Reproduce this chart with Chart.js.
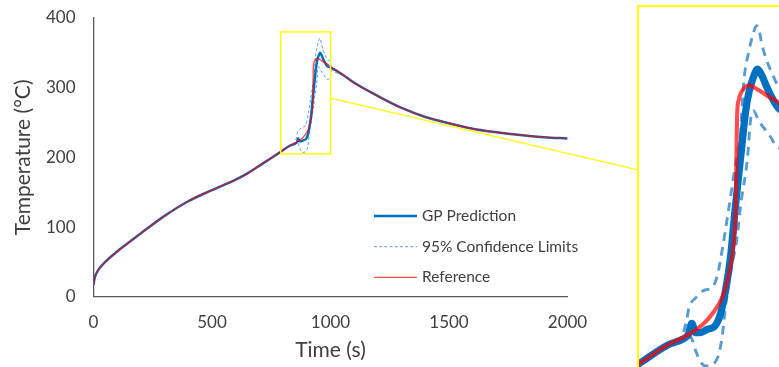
<!DOCTYPE html>
<html>
<head>
<meta charset="utf-8">
<script src="https://cdn.jsdelivr.net/npm/chart.js@4"></script>
<style>
  html, body { margin: 0; padding: 0; background: #fff; overflow: hidden; }
  #main { position: absolute; left: 0; top: 0; width: 779px; height: 367px; }
  #zoom { position: absolute; left: 637px; top: 5px; width: 150px; height: 363px;
          border-left: 2px solid #ffff00; border-top: 2px solid #ffff00; background: #fff; }
</style>
</head>
<body>
<div id="main"><canvas id="tempChart"></canvas></div>
<div id="zoom"><canvas id="zoomChart"></canvas></div>
<script>
// heating phase, shared by every curve
var warmupTime = [0, 5, 20, 50, 100, 150, 200, 300, 400, 500, 600, 650, 700, 750, 790, 830];
var warmupTemp = [17, 27, 38, 50, 65, 78, 91, 116, 137, 153, 168, 177, 188, 199, 208, 217];

// cooling phase, shared by every curve
var coolTime = [1050, 1100, 1200, 1300, 1400, 1500, 1600, 1700, 1800, 1900, 2000];
var coolTemp = [319, 307, 288, 271, 258, 249, 241, 236, 232, 229, 227];

// peak window, per curve
var gpTime = [852, 859, 864, 869, 876, 885, 897, 904, 911, 918, 925, 934, 939, 944, 950, 956, 962, 967, 975, 986, 1000];
var gpTemp = [220, 222, 227.5, 223, 223, 224.5, 226.5, 232, 243, 259, 284, 313, 329, 339, 346, 350, 347, 343, 337, 331, 329];

var refTime = [862, 881, 895, 907, 916, 923, 925.5, 926.5, 927.5, 929.5, 932, 944, 955, 967, 986, 1000];
var refTemp = [222.6, 227.5, 233.2, 240.4, 251.6, 268, 284, 310, 329, 335, 338, 342.3, 340.5, 337.8, 333.8, 330];

var upperTime = [850, 856, 860, 870, 881, 893, 900, 907, 914, 921, 928, 932, 934.5, 937, 944, 949, 954.5, 958, 962, 969, 979, 986, 1000, 1004];
var upperTemp = [221, 228, 235, 240, 243.4, 245, 251, 264, 279, 295, 310, 318, 333, 345, 359, 366, 371, 369, 362, 354, 346, 341, 336, 328];

var lowerTime = [852, 862, 869, 876, 884, 890, 897, 902, 907, 911, 918, 928, 932, 942, 946, 950, 958, 972, 986, 1000, 1004];
var lowerTemp = [220.5, 221, 214.6, 209, 207, 207.3, 209, 213, 222.6, 235.4, 251.4, 270.7, 283.6, 307.6, 325, 330, 325, 318.5, 312, 314, 328];

// region shown enlarged on the right
var zoomTime = [790, 1000];
var zoomTemp = [205, 380];

var BLUE = '#0070c0',
    LIGHT_BLUE = '#5b9bd5',
    RED = 'rgba(255, 0, 0, 0.7)',
    YELLOW = '#ffff00',
    TEXT = '#404040',
    FONT = 'Lato, "DejaVu Sans", sans-serif';

function curve(winTime, winTemp) {
    var t = warmupTime.concat(winTime, coolTime),
        v = warmupTemp.concat(winTemp, coolTemp);
    return t.map(function (x, i) { return { x: x, y: v[i] }; });
}

function makeDatasets(k) {
    var base = { pointRadius: 0, fill: false, cubicInterpolationMode: 'monotone' };
    return [
        Object.assign({ label: 'Reference', data: curve(refTime, refTemp),
            borderColor: RED, borderWidth: 1.4 * k, order: 0 }, base),
        Object.assign({ label: 'GP Prediction', data: curve(gpTime, gpTemp),
            borderColor: BLUE, borderWidth: 2.5 * k, order: 1 }, base),
        Object.assign({ label: '95% Confidence Limits', data: curve(upperTime, upperTemp),
            borderColor: LIGHT_BLUE, borderWidth: 1 * k, borderDash: [3 * k, 2.2 * k], order: 2 }, base),
        Object.assign({ label: '95% Confidence Limits', data: curve(lowerTime, lowerTemp),
            borderColor: LIGHT_BLUE, borderWidth: 1 * k, borderDash: [3 * k, 2.2 * k], order: 3 }, base)
    ];
}

var INSET = { left: 639, top: 7, width: 150, height: 363 };

// yellow box around the peak plus the line leading to the enlarged view
var zoomBoxPlugin = {
    id: 'zoomBox',
    afterDatasetsDraw: function (chart) {
        var ctx = chart.ctx, xs = chart.scales.x, ys = chart.scales.y;
        var x0 = xs.getPixelForValue(zoomTime[0]), x1 = xs.getPixelForValue(zoomTime[1]),
            y0 = ys.getPixelForValue(zoomTemp[1]), y1 = ys.getPixelForValue(zoomTemp[0]);
        ctx.save();
        ctx.strokeStyle = YELLOW;
        ctx.lineWidth = 1.5;
        ctx.strokeRect(x0, y0, x1 - x0, y1 - y0);
        var endY = INSET.top + (zoomTemp[1] - 301.5) / (zoomTemp[1] - zoomTemp[0]) * INSET.height;
        ctx.lineWidth = 1.3;
        ctx.beginPath();
        ctx.moveTo(x1, ys.getPixelForValue(285));
        ctx.lineTo(INSET.left - 1, endY);
        ctx.stroke();
        ctx.restore();
    }
};

// legend with a single entry for both confidence limits
var legendPlugin = {
    id: 'sideLegend',
    afterDraw: function (chart) {
        var ctx = chart.ctx, rows = [1, 2, 0], y = 216;
        ctx.save();
        ctx.font = '15.5px ' + FONT;
        ctx.textBaseline = 'middle';
        rows.forEach(function (i) {
            var ds = chart.data.datasets[i];
            ctx.strokeStyle = ds.borderColor;
            ctx.lineWidth = ds.borderWidth;
            ctx.setLineDash(ds.borderDash || []);
            ctx.beginPath();
            ctx.moveTo(374, y);
            ctx.lineTo(417, y);
            ctx.stroke();
            ctx.setLineDash([]);
            ctx.fillStyle = TEXT;
            ctx.fillText(ds.label, 422, y);
            y += 30.7;
        });
        ctx.restore();
    }
};

function plainNumber(v) { return String(v); }

var mainChart = new Chart(document.getElementById('tempChart').getContext('2d'), {
    type: 'line',
    data: { datasets: makeDatasets(1) },
    options: {
        responsive: true,
        maintainAspectRatio: false,
        animation: false,
        layout: { padding: { top: 18, right: 211.5, left: 0, bottom: 0 } },
        plugins: { legend: { display: false }, tooltip: { enabled: false } },
        scales: {
            x: {
                type: 'linear', min: 0, max: 2000,
                ticks: { stepSize: 500, padding: 0, color: TEXT, font: { family: FONT, size: 17 },
                         callback: plainNumber },
                // tick marks are hidden, their length only spaces the labels
                grid: { display: false, drawTicks: true, tickLength: 16 },
                border: { display: true, color: '#595959', width: 1.3 },
                title: { display: true, text: 'Time (s)', color: TEXT,
                         font: { family: FONT, size: 21 }, padding: { top: 0, bottom: 4 } },
                afterFit: function (s) { s.height = 70.3; }
            },
            y: {
                type: 'linear', min: 0, max: 400,
                ticks: { stepSize: 100, padding: 0, color: TEXT, font: { family: FONT, size: 17 },
                         callback: plainNumber },
                grid: { display: false, drawTicks: true, tickLength: 18 },
                border: { display: true, color: '#595959', width: 1.3 },
                title: { display: true, text: 'Temperature (°C)', color: TEXT,
                         font: { family: FONT, size: 21 }, padding: { top: 11, bottom: 0 } },
                afterFit: function (s) { s.width = 93.5; }
            }
        }
    },
    plugins: [zoomBoxPlugin, legendPlugin]
});

var zoomChart = new Chart(document.getElementById('zoomChart').getContext('2d'), {
    type: 'line',
    data: { datasets: makeDatasets(2.9) },
    options: {
        responsive: true,
        maintainAspectRatio: false,
        animation: false,
        layout: { padding: 0 },
        plugins: { legend: { display: false }, tooltip: { enabled: false } },
        scales: {
            x: { type: 'linear', min: zoomTime[0], max: zoomTime[1], display: false },
            y: { type: 'linear', min: zoomTemp[0], max: zoomTemp[1], display: false }
        }
    }
});
</script>
</body>
</html>
